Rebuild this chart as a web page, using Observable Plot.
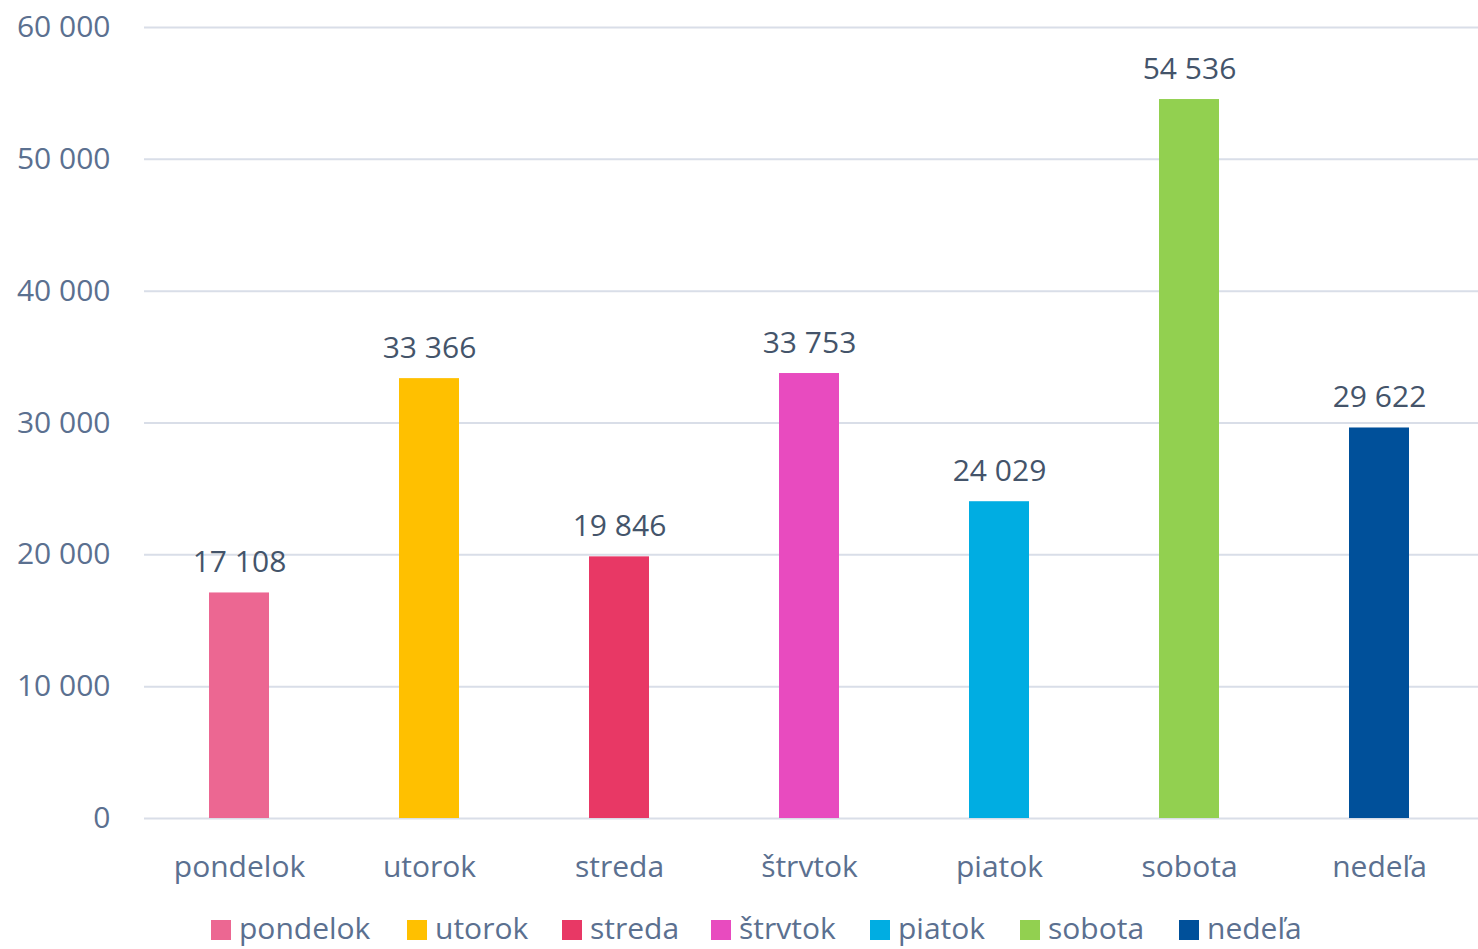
<!DOCTYPE html>
<html>
<head>
<meta charset="utf-8">
<script src="https://cdn.jsdelivr.net/npm/d3@7"></script>
<script src="https://cdn.jsdelivr.net/npm/@observablehq/plot@0.6"></script>
<style>
  html, body { margin: 0; padding: 0; background: #fff; }
  body { width: 1478px; height: 949px; overflow: hidden; font-family: "Open Sans", sans-serif; position: relative; }
  #legend { position: absolute; left: 0; top: 0; width: 1478px; height: 949px; pointer-events: none; font-size: 30px; line-height: 30px; color: #5B7090; }
  #legend .sw { position: absolute; top: 920px; width: 20px; height: 20px; }
  #legend .lab { position: absolute; top: 913px; white-space: nowrap; }
</style>
</head>
<body>
<div id="chart"></div>
<div id="legend"></div>
<script>
const days = ["pondelok", "utorok", "streda", "štrvtok", "piatok", "sobota", "nedeľa"];
const values = [17108, 33366, 19846, 33753, 24029, 54536, 29622];
const colors = ["#EC6792", "#FFC000", "#E83865", "#E84BBF", "#00ADE2", "#92D050", "#00509A"];
const yTicks = [0, 10000, 20000, 30000, 40000, 50000, 60000];

// legend layout (swatch left edges in px)
const legendLeft = [211, 407, 562, 711, 870, 1020, 1179];

const data = days.map((d, i) => ({day: d, value: values[i]}));
const fmt = v => d3.format(",")(v).replace(/,/g, "\u00A0");

const plot = Plot.plot({
  width: 1478,
  height: 895,
  marginLeft: 144,
  marginRight: 4,
  marginTop: 27,
  marginBottom: 77,
  style: {fontFamily: "Open Sans, sans-serif", fontSize: "30px", background: "#fff", overflow: "visible"},
  x: {domain: days, paddingInner: 0.685, paddingOuter: 0.3425, label: null},
  y: {domain: [0, 60000], label: null},
  color: {domain: days, range: colors},
  marks: [
    Plot.ruleY(yTicks, {stroke: "#D9DEE8", strokeWidth: 2, insetRight: -4}),
    Plot.axisY(yTicks, {tickSize: 0, tickPadding: 34, tickFormat: fmt, fill: "#5B7090", fontSize: 30, label: null}),
    Plot.axisX({tickSize: 0, tickPadding: 37, fill: "#5B7090", fontSize: 30, label: null}),
    Plot.barY(data, {x: "day", y: "value", fill: "day"}),
    Plot.text(data, {x: "day", y: "value", text: d => fmt(d.value), lineAnchor: "bottom", dy: -21, fill: "#44546A", fontSize: 30})
  ]
});
document.getElementById("chart").appendChild(plot);

const legend = document.getElementById("legend");
days.forEach((d, i) => {
  const sw = document.createElement("div");
  sw.className = "sw";
  sw.style.left = legendLeft[i] + "px";
  sw.style.background = colors[i];
  const lab = document.createElement("span");
  lab.className = "lab";
  lab.style.left = (legendLeft[i] + 28) + "px";
  lab.textContent = d;
  legend.appendChild(sw);
  legend.appendChild(lab);
});
</script>
</body>
</html>
